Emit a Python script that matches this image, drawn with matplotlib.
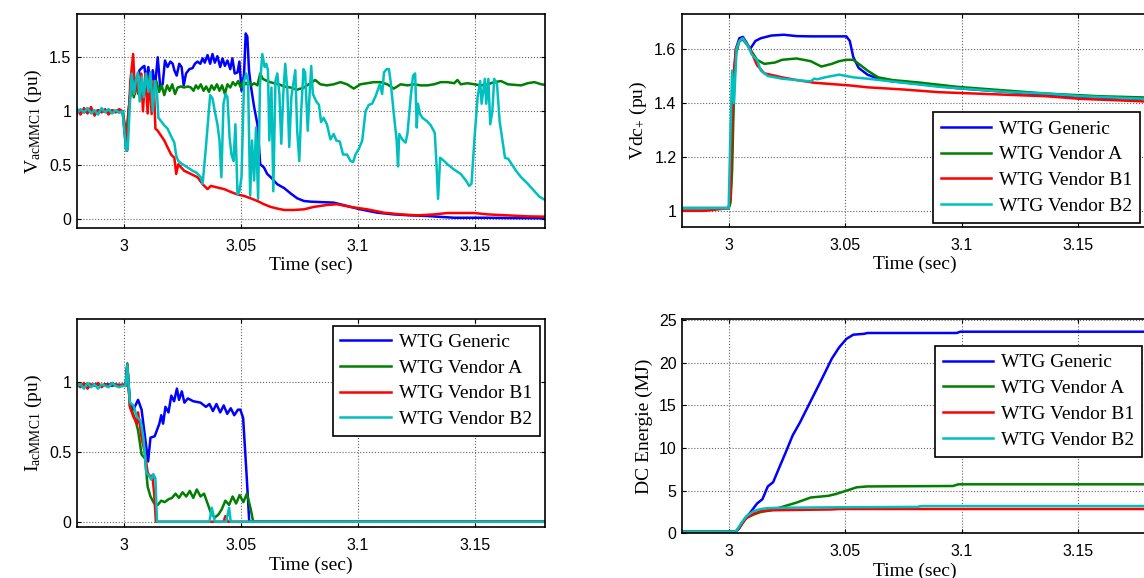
import matplotlib
matplotlib.use('Agg')
import matplotlib.pyplot as plt
from matplotlib.ticker import FormatStrFormatter

plt.rcParams['font.family'] = 'Liberation Sans'
plt.rcParams['mathtext.fontset'] = 'custom'
plt.rcParams['mathtext.rm'] = 'Liberation Serif'
plt.rcParams['mathtext.it'] = 'Liberation Serif:italic'

SERIES = ['WTG Generic', 'WTG Vendor A', 'WTG Vendor B1', 'WTG Vendor B2']
COLORS = ['#0000ff', '#008000', '#ff0000', '#00bfbf']

# pre-fault samples (common time base)
pre_t = [2.980, 2.9815, 2.983, 2.9845, 2.986, 2.9875, 2.989, 2.9905,
         2.992, 2.9935, 2.995, 2.9965, 2.998, 2.9995]

# ---------------- V_acMMC1 (pu) ----------------
vac_pre_blue = [1.0, 1.01, 0.99, 1.01, 1.0, 0.99, 1.01, 1.0, 1.0, 1.01, 0.99, 1.0, 1.01, 1.0]
vac_pre_green = [1.0, 0.99, 1.01, 1.0, 1.01, 1.0, 0.99, 1.01, 1.0, 0.99, 1.01, 1.0, 0.99, 1.0]
vac_pre_red = [1.02, 0.97, 1.03, 0.98, 1.04, 0.96, 1.01, 0.99, 1.02, 0.97, 1.01, 0.99, 1.02, 1.0]
vac_pre_cyan = [0.98, 1.02, 0.99, 1.03, 0.98, 1.01, 0.97, 1.03, 0.99, 1.02, 0.98, 1.01, 0.99, 1.0]

vac_blue = [(3.0010, 0.65), (3.0020, 1.0), (3.0038, 1.35), (3.0053, 1.25), (3.0067, 1.38),
            (3.0081, 1.41), (3.0088, 1.42), (3.0095, 1.28), (3.0105, 1.41), (3.0114, 1.24),
            (3.0124, 1.38), (3.0133, 1.22), (3.0145, 1.50), (3.0156, 1.22), (3.0166, 1.25),
            (3.0176, 1.47), (3.0187, 1.41), (3.0199, 1.46), (3.0209, 1.44), (3.0216, 1.38),
            (3.0226, 1.33), (3.0237, 1.44), (3.0247, 1.41), (3.0256, 1.24), (3.0266, 1.35),
            (3.0280, 1.39), (3.0294, 1.40), (3.0304, 1.44), (3.0315, 1.46), (3.0327, 1.44),
            (3.0337, 1.49), (3.0346, 1.45), (3.0358, 1.52), (3.0369, 1.44), (3.0379, 1.53),
            (3.0389, 1.45), (3.0400, 1.51), (3.0412, 1.41), (3.0422, 1.49), (3.0432, 1.42),
            (3.0443, 1.47), (3.0455, 1.39), (3.0464, 1.49), (3.0474, 1.35), (3.0486, 1.36),
            (3.0494, 1.46), (3.0503, 1.19), (3.0514, 1.35), (3.0521, 1.72), (3.0528, 1.69),
            (3.0535, 1.38), (3.0542, 1.25), (3.0557, 1.04), (3.0571, 0.88), (3.0583, 0.51),
            (3.0599, 0.48), (3.0613, 0.42), (3.0628, 0.39), (3.0656, 0.325), (3.0685, 0.29),
            (3.0713, 0.24), (3.0741, 0.195), (3.0770, 0.17), (3.0798, 0.164), (3.0840, 0.16),
            (3.0897, 0.155), (3.0954, 0.124), (3.1011, 0.093), (3.1083, 0.062), (3.1154, 0.046),
            (3.1226, 0.037), (3.1297, 0.031), (3.1412, 0.015), (3.1555, 0.015), (3.1669, 0.012),
            (3.18, 0.01)]

vac_green = [(3.0010, 0.75), (3.0031, 1.25), (3.0043, 1.13), (3.0053, 1.27), (3.0062, 1.16),
             (3.0074, 1.28), (3.0085, 1.19), (3.0095, 1.30), (3.0105, 1.16), (3.0116, 1.27),
             (3.0128, 1.19), (3.0139, 1.28), (3.0151, 1.18), (3.0162, 1.24), (3.0173, 1.15),
             (3.0185, 1.24), (3.0196, 1.19), (3.0207, 1.25), (3.0219, 1.16), (3.0230, 1.22),
             (3.0244, 1.23), (3.0258, 1.22), (3.0273, 1.23), (3.0287, 1.22), (3.0298, 1.19),
             (3.0308, 1.24), (3.0318, 1.21), (3.0329, 1.25), (3.0341, 1.19), (3.0352, 1.23),
             (3.0364, 1.18), (3.0375, 1.24), (3.0386, 1.20), (3.0398, 1.25), (3.0409, 1.19),
             (3.0420, 1.24), (3.0432, 1.16), (3.0443, 1.25), (3.0455, 1.22), (3.0466, 1.27),
             (3.0477, 1.24), (3.0489, 1.28), (3.0500, 1.22), (3.0511, 1.28), (3.0523, 1.25),
             (3.0534, 1.28), (3.0545, 1.24), (3.0557, 1.26), (3.0571, 1.24), (3.0583, 1.35),
             (3.0594, 1.30), (3.0608, 1.285), (3.0625, 1.27), (3.0642, 1.26), (3.0663, 1.25),
             (3.0685, 1.23), (3.0713, 1.22), (3.0741, 1.20), (3.0770, 1.22), (3.0783, 1.24),
             (3.0818, 1.29), (3.0840, 1.25), (3.0868, 1.24), (3.0897, 1.25), (3.0926, 1.27),
             (3.0954, 1.25), (3.0983, 1.21), (3.1011, 1.25), (3.1040, 1.26), (3.1069, 1.27),
             (3.1097, 1.27), (3.1126, 1.25), (3.1154, 1.21), (3.1183, 1.25), (3.1212, 1.24),
             (3.1240, 1.25), (3.1269, 1.24), (3.1297, 1.24), (3.1326, 1.25), (3.1355, 1.27),
             (3.1383, 1.27), (3.1412, 1.26), (3.1426, 1.29), (3.1440, 1.25), (3.1469, 1.26),
             (3.1498, 1.25), (3.1526, 1.24), (3.1555, 1.25), (3.1583, 1.27), (3.1612, 1.28),
             (3.1641, 1.25), (3.1669, 1.245), (3.1698, 1.24), (3.1726, 1.26), (3.1755, 1.27),
             (3.1784, 1.25), (3.18, 1.245)]

vac_red = [(3.0010, 0.80), (3.0014, 0.635), (3.0028, 1.28), (3.0040, 1.53), (3.0048, 1.16),
           (3.0057, 1.28), (3.0068, 1.16), (3.0074, 1.35), (3.0082, 1.00), (3.0092, 1.35),
           (3.0102, 0.98), (3.0109, 1.33), (3.0119, 0.975), (3.0128, 1.28), (3.0135, 0.84),
           (3.0145, 0.82), (3.0173, 0.73), (3.0202, 0.60), (3.0216, 0.57), (3.0224, 0.42),
           (3.0233, 0.51), (3.0258, 0.45), (3.0287, 0.42), (3.0315, 0.39), (3.0337, 0.325),
           (3.0358, 0.28), (3.0372, 0.31), (3.0400, 0.295), (3.0429, 0.28), (3.0457, 0.254),
           (3.0486, 0.23), (3.0514, 0.217), (3.0542, 0.195), (3.0571, 0.17), (3.0599, 0.14),
           (3.0628, 0.115), (3.0656, 0.10), (3.0685, 0.087), (3.0727, 0.087), (3.0770, 0.093),
           (3.0811, 0.115), (3.0868, 0.133), (3.0911, 0.14), (3.0969, 0.115), (3.1040, 0.093),
           (3.1112, 0.062), (3.1183, 0.046), (3.1255, 0.037), (3.1326, 0.046), (3.1383, 0.059),
           (3.1498, 0.059), (3.1555, 0.046), (3.1641, 0.037), (3.1726, 0.028), (3.18, 0.025)]

vac_cyan = [(3.0010, 0.635), (3.0017, 0.66), (3.0026, 1.07), (3.0034, 1.35), (3.0043, 1.16),
            (3.0051, 1.28), (3.0060, 1.36), (3.0068, 1.09), (3.0077, 1.32), (3.0085, 1.13),
            (3.0095, 1.35), (3.0105, 1.18), (3.0114, 1.36), (3.0124, 1.0), (3.0133, 1.28),
            (3.0142, 1.16), (3.0148, 0.94), (3.0159, 0.91), (3.0173, 0.87), (3.0187, 0.84),
            (3.0202, 0.77), (3.0216, 0.71), (3.0224, 0.59), (3.0233, 0.54), (3.0251, 0.51),
            (3.0273, 0.48), (3.0294, 0.45), (3.0312, 0.43), (3.0329, 0.39), (3.0337, 0.33),
            (3.0351, 0.67), (3.0369, 1.15), (3.0379, 1.12), (3.0389, 1.0), (3.0400, 0.88),
            (3.0409, 0.73), (3.0417, 0.39), (3.0426, 1.07), (3.0435, 1.16), (3.0443, 1.13),
            (3.0452, 0.76), (3.0460, 0.60), (3.0469, 0.54), (3.0477, 0.88), (3.0486, 0.23),
            (3.0494, 0.26), (3.0503, 0.39), (3.0514, 1.28), (3.0523, 1.35), (3.0531, 1.28),
            (3.0540, 0.22), (3.0548, 0.73), (3.0557, 0.36), (3.0565, 0.85), (3.0574, 0.19),
            (3.0582, 1.25), (3.0592, 1.53), (3.0602, 1.41), (3.0609, 1.44), (3.0616, 1.38),
            (3.0622, 0.73), (3.0631, 1.22), (3.0639, 0.26), (3.0648, 1.28), (3.0656, 1.35),
            (3.0665, 1.16), (3.0673, 0.70), (3.0682, 1.18), (3.0690, 1.44), (3.0699, 1.19),
            (3.0707, 0.67), (3.0716, 1.13), (3.0724, 1.25), (3.0733, 1.38), (3.0741, 0.82),
            (3.0750, 0.54), (3.0758, 1.0), (3.0768, 1.39), (3.0775, 1.36), (3.0786, 0.82),
            (3.0794, 1.16), (3.0801, 1.42), (3.0808, 1.16), (3.0823, 1.09), (3.0834, 1.06),
            (3.0843, 0.90), (3.0854, 0.94), (3.0868, 0.88), (3.0883, 0.74), (3.0897, 0.79),
            (3.0908, 0.73), (3.0923, 0.72), (3.0937, 0.60), (3.0954, 0.60), (3.0969, 0.54),
            (3.0980, 0.53), (3.0990, 0.60), (3.1004, 0.65), (3.1019, 0.73), (3.1033, 1.0),
            (3.1047, 1.06), (3.1061, 1.07), (3.1076, 1.14), (3.1094, 1.25), (3.1104, 1.16),
            (3.1112, 1.36), (3.1123, 1.39), (3.1133, 1.39), (3.1140, 1.28), (3.1154, 0.975),
            (3.1166, 0.73), (3.1172, 0.49), (3.1177, 0.79), (3.1190, 0.74), (3.1204, 0.71),
            (3.1212, 0.79), (3.1226, 1.13), (3.1236, 1.33), (3.1245, 1.35), (3.1252, 0.85),
            (3.1257, 1.07), (3.1266, 0.975), (3.1276, 0.94), (3.1295, 0.91), (3.1312, 0.87),
            (3.1329, 0.80), (3.1337, 0.48), (3.1343, 0.19), (3.1352, 0.57), (3.1369, 0.54),
            (3.1383, 0.51), (3.1412, 0.46), (3.1440, 0.42), (3.1462, 0.36), (3.1476, 0.31),
            (3.1486, 0.33), (3.1498, 0.73), (3.1512, 1.13), (3.1523, 1.28), (3.1529, 1.07),
            (3.1538, 1.22), (3.1543, 1.30), (3.1549, 1.07), (3.1558, 1.30), (3.1566, 0.88),
            (3.1575, 1.0), (3.1583, 1.30), (3.1595, 1.25), (3.1606, 0.91), (3.1618, 0.73),
            (3.1629, 0.57), (3.1643, 0.56), (3.1658, 0.51), (3.1676, 0.45), (3.1698, 0.39),
            (3.1726, 0.33), (3.1755, 0.26), (3.1776, 0.21), (3.18, 0.18)]

# ---------------- Vdc+ (pu) ----------------
vdc_blue = [(2.98, 1.01), (3.0, 1.01), (3.0008, 1.05), (3.0015, 1.25), (3.0023, 1.50), (3.0031, 1.60),
            (3.0046, 1.64), (3.0061, 1.645), (3.0076, 1.625), (3.0092, 1.60), (3.0115, 1.63),
            (3.0138, 1.64), (3.0183, 1.65), (3.0237, 1.653), (3.0291, 1.648), (3.0352, 1.647),
            (3.0505, 1.647), (3.0520, 1.63), (3.0535, 1.57), (3.0558, 1.53), (3.0596, 1.505),
            (3.0642, 1.49), (3.0703, 1.48), (3.0826, 1.47), (3.0979, 1.455), (3.1131, 1.445),
            (3.1361, 1.43), (3.1590, 1.42), (3.18, 1.415)]
vdc_green = [(2.98, 1.01), (3.0, 1.01), (3.0008, 1.03), (3.0015, 1.15), (3.0023, 1.45), (3.0031, 1.58),
             (3.0046, 1.63), (3.0061, 1.635), (3.0076, 1.62), (3.0092, 1.60), (3.0122, 1.56),
             (3.0153, 1.545), (3.0199, 1.55), (3.0229, 1.56), (3.0291, 1.565), (3.0352, 1.555),
             (3.0398, 1.535), (3.0443, 1.545), (3.0474, 1.555), (3.0505, 1.56), (3.0535, 1.56),
             (3.0566, 1.54), (3.0596, 1.52), (3.0642, 1.495), (3.0703, 1.485), (3.0826, 1.475),
             (3.0979, 1.46), (3.1131, 1.45), (3.1361, 1.435), (3.1590, 1.425), (3.18, 1.42)]
vdc_red = [(2.98, 1.0), (2.99, 1.0), (3.0, 1.01), (3.0008, 1.05), (3.0015, 1.35), (3.0023, 1.52),
           (3.0031, 1.60), (3.0046, 1.63), (3.0061, 1.64), (3.0092, 1.60), (3.0122, 1.54),
           (3.0153, 1.51), (3.0229, 1.495), (3.0291, 1.485), (3.0367, 1.475), (3.0443, 1.47),
           (3.0520, 1.465), (3.0596, 1.458), (3.0749, 1.45), (3.0902, 1.44), (3.1055, 1.435),
           (3.1208, 1.43), (3.1361, 1.425), (3.1514, 1.415), (3.1667, 1.41), (3.18, 1.405)]
vdc_cyan = [(2.98, 1.01), (3.0, 1.01), (3.0008, 1.30), (3.0015, 1.52), (3.0023, 1.40), (3.0034, 1.60),
            (3.0046, 1.63), (3.0061, 1.64), (3.0084, 1.61), (3.0099, 1.58), (3.0122, 1.56),
            (3.0138, 1.52), (3.0168, 1.50), (3.0229, 1.49), (3.0291, 1.485), (3.0352, 1.48),
            (3.0367, 1.49), (3.0382, 1.488), (3.0413, 1.495), (3.0443, 1.50), (3.0474, 1.505),
            (3.0505, 1.50), (3.0535, 1.495), (3.0596, 1.49), (3.0749, 1.475), (3.0902, 1.46),
            (3.1055, 1.45), (3.1208, 1.44), (3.1361, 1.435), (3.1514, 1.425), (3.18, 1.415)]

# ---------------- I_acMMC1 (pu) ----------------
iac_pre_blue = [0.98, 0.97, 0.98, 0.98, 0.97, 0.98, 0.98, 0.97, 0.98, 0.98, 0.97, 0.98, 0.97, 0.98]
iac_pre_green = [0.97, 0.98, 0.97, 0.98, 0.98, 0.97, 0.98, 0.97, 0.98, 0.97, 0.98, 0.98, 0.97, 0.97]
iac_pre_red = [0.98, 0.96, 0.99, 0.95, 0.98, 0.97, 0.99, 0.96, 0.98, 0.97, 0.99, 0.97, 0.98, 0.97]
iac_pre_cyan = [0.97, 0.98, 0.95, 0.99, 0.96, 0.98, 0.95, 0.98, 0.97, 0.96, 0.99, 0.97, 0.96, 0.97]

iac_blue = [(3.0008, 0.97), (3.0015, 1.12), (3.0026, 0.85), (3.0041, 0.80), (3.0061, 0.87),
            (3.0076, 0.80), (3.0091, 0.60), (3.0104, 0.43), (3.0114, 0.60), (3.0132, 0.61),
            (3.0152, 0.70), (3.0160, 0.76), (3.0168, 0.70), (3.0178, 0.82), (3.0191, 0.78),
            (3.0203, 0.90), (3.0215, 0.86), (3.0227, 0.95), (3.0236, 0.87), (3.0248, 0.93),
            (3.0259, 0.85), (3.0274, 0.88), (3.0297, 0.86), (3.0328, 0.85), (3.0351, 0.82),
            (3.0366, 0.84), (3.0381, 0.79), (3.0396, 0.84), (3.0412, 0.78), (3.0427, 0.83),
            (3.0442, 0.77), (3.0457, 0.81), (3.0472, 0.76), (3.0488, 0.80), (3.0498, 0.80),
            (3.0510, 0.74), (3.0526, 0.30), (3.0536, 0.0), (3.18, 0.0)]
iac_green = [(3.0008, 0.97), (3.0015, 1.13), (3.0026, 0.83), (3.0049, 0.73), (3.0061, 0.65),
             (3.0076, 0.48), (3.0091, 0.45), (3.0102, 0.25), (3.0114, 0.18), (3.0130, 0.13),
             (3.0145, 0.12), (3.0160, 0.15), (3.0175, 0.14), (3.0191, 0.16), (3.0206, 0.17),
             (3.0221, 0.20), (3.0236, 0.17), (3.0251, 0.21), (3.0267, 0.18), (3.0282, 0.22),
             (3.0297, 0.17), (3.0312, 0.23), (3.0328, 0.18), (3.0343, 0.20), (3.0358, 0.13),
             (3.0373, 0.06), (3.0389, 0.03), (3.0404, 0.05), (3.0419, 0.09), (3.0434, 0.15),
             (3.0450, 0.12), (3.0465, 0.18), (3.0480, 0.13), (3.0495, 0.19), (3.0511, 0.14),
             (3.0526, 0.20), (3.0541, 0.10), (3.0553, 0.0), (3.18, 0.0)]
iac_red = [(3.0008, 0.97), (3.0015, 1.12), (3.0026, 0.82), (3.0041, 0.75), (3.0056, 0.70),
           (3.0061, 0.78), (3.0076, 0.60), (3.0091, 0.48), (3.0102, 0.35), (3.0114, 0.32),
           (3.0122, 0.33), (3.0130, 0.20), (3.0137, 0.0), (3.0427, 0.0), (3.0434, 0.04),
           (3.0445, 0.0), (3.18, 0.0)]
iac_cyan = [(3.0008, 0.97), (3.0015, 1.12), (3.0026, 0.85), (3.0041, 0.83), (3.0056, 0.75),
            (3.0072, 0.72), (3.0084, 0.60), (3.0096, 0.35), (3.0107, 0.33), (3.0117, 0.30),
            (3.0126, 0.34), (3.0135, 0.31), (3.0142, 0.0), (3.0366, 0.0), (3.0376, 0.10),
            (3.0389, 0.0), (3.0437, 0.0), (3.0450, 0.10), (3.0457, 0.0), (3.18, 0.0)]

# ---------------- DC energy (MJ) ----------------
edc_blue = [(2.98, 0.2), (3.0031, 0.2), (3.0046, 0.6), (3.0069, 1.7), (3.0092, 2.4), (3.0122, 3.5),
            (3.0145, 4.0), (3.0168, 5.5), (3.0191, 6.0), (3.0214, 7.5), (3.0245, 9.5),
            (3.0275, 11.5), (3.0306, 13.0), (3.0352, 15.5), (3.0398, 18.0), (3.0443, 20.5),
            (3.0474, 21.8), (3.0505, 22.8), (3.0535, 23.3), (3.0581, 23.4), (3.0596, 23.5),
            (3.0979, 23.5), (3.0994, 23.65), (3.18, 23.65)]
edc_green = [(2.98, 0.2), (3.0031, 0.2), (3.0054, 1.0), (3.0076, 1.8), (3.0107, 2.2), (3.0138, 2.5),
             (3.0183, 2.7), (3.0229, 3.1), (3.0291, 3.6), (3.0352, 4.2), (3.0428, 4.4),
             (3.0459, 4.6), (3.0505, 5.0), (3.0550, 5.4), (3.0596, 5.5), (3.0963, 5.55),
             (3.0986, 5.75), (3.18, 5.75)]
edc_red = [(2.98, 0.2), (3.0031, 0.2), (3.0054, 1.0), (3.0076, 1.8), (3.0107, 2.3), (3.0138, 2.6),
           (3.0168, 2.7), (3.0443, 2.8), (3.0474, 2.85), (3.18, 2.85)]
edc_cyan = [(2.98, 0.2), (3.0031, 0.2), (3.0054, 1.2), (3.0076, 2.0), (3.0107, 2.6), (3.0138, 2.85),
            (3.0168, 2.95), (3.0229, 3.0), (3.0443, 3.05), (3.0810, 3.1), (3.0826, 3.2), (3.18, 3.2)]

x_ticks = [3, 3.05, 3.1, 3.15]
SERIF = 'Liberation Serif'


def split(pairs, pre=None):
    t = [p[0] for p in pairs]
    v = [p[1] for p in pairs]
    if pre is not None:
        t = pre_t + t
        v = pre + v
    return t, v


def style_axes(ax, ylim, yticks, ylabel):
    ax.set_xlim(2.98, 3.18)
    ax.set_ylim(*ylim)
    ax.set_xticks(x_ticks)
    ax.set_yticks(yticks)
    ax.xaxis.set_major_formatter(FormatStrFormatter('%g'))
    ax.yaxis.set_major_formatter(FormatStrFormatter('%g'))
    ax.tick_params(direction='in', top=True, right=True, length=3, width=0.8,
                   labelsize=11.5)
    ax.tick_params(axis='x', pad=8)
    ax.tick_params(axis='y', pad=4)
    ax.grid(True, linestyle=':', color='#666666', linewidth=0.8)
    for s in ax.spines.values():
        s.set_linewidth(1.2)
    ax.set_xlabel('Time (sec)', family=SERIF, fontsize=14, labelpad=2)
    ax.set_ylabel(ylabel, family=SERIF, fontsize=14, labelpad=4)


def add_legend(ax, loc, anchor):
    leg = ax.legend(loc=loc, bbox_to_anchor=anchor, borderaxespad=0,
                    prop={'family': SERIF, 'size': 14}, fancybox=False,
                    edgecolor='black', framealpha=1, handlelength=2.6,
                    handletextpad=0.4, labelspacing=0.42, borderpad=0.4)
    leg.get_frame().set_linewidth(1.2)


fig = plt.figure(figsize=(11.44, 5.78), dpi=100)
ax1 = fig.add_axes([0.0673, 0.6055, 0.4091, 0.3702])
ax2 = fig.add_axes([0.5962, 0.6073, 0.4073, 0.3685])
ax3 = fig.add_axes([0.0673, 0.0877, 0.4091, 0.3599])
ax4 = fig.add_axes([0.5962, 0.0773, 0.4073, 0.3702])

lw = 1.8
vac = [split(vac_blue, vac_pre_blue), split(vac_green, vac_pre_green),
       split(vac_red, vac_pre_red), split(vac_cyan, vac_pre_cyan)]
for (t, v), c, name in zip(vac, COLORS, SERIES):
    ax1.plot(t, v, color=c, lw=lw, label=name)
style_axes(ax1, (-0.08, 1.9), [0, 0.5, 1, 1.5], r'V$_{\mathrm{acMMC1}}$ (pu)')

vdc = [split(vdc_blue), split(vdc_green), split(vdc_red), split(vdc_cyan)]
for (t, v), c, name in zip(vdc, COLORS, SERIES):
    ax2.plot(t, v, color=c, lw=lw, label=name)
style_axes(ax2, (0.94, 1.73), [1, 1.2, 1.4, 1.6], r'Vdc$_{+}$ (pu)')
add_legend(ax2, 'lower right', (0.983, 0.02))

iac = [split(iac_blue, iac_pre_blue), split(iac_green, iac_pre_green),
       split(iac_red, iac_pre_red), split(iac_cyan, iac_pre_cyan)]
for (t, v), c, name in zip(iac, COLORS, SERIES):
    ax3.plot(t, v, color=c, lw=lw, label=name)
style_axes(ax3, (-0.04, 1.445), [0, 0.5, 1], r'I$_{\mathrm{acMMC1}}$ (pu)')
add_legend(ax3, 'upper right', (0.989, 0.97))

edc = [split(edc_blue), split(edc_green), split(edc_red), split(edc_cyan)]
for (t, v), c, name in zip(edc, COLORS, SERIES):
    ax4.plot(t, v, color=c, lw=lw, label=name)
style_axes(ax4, (0, 25.1), [0, 5, 10, 15, 20, 25], 'DC Energie (MJ)')
add_legend(ax4, 'upper right', (0.987, 0.875))

fig.savefig('out.png', dpi=100)
